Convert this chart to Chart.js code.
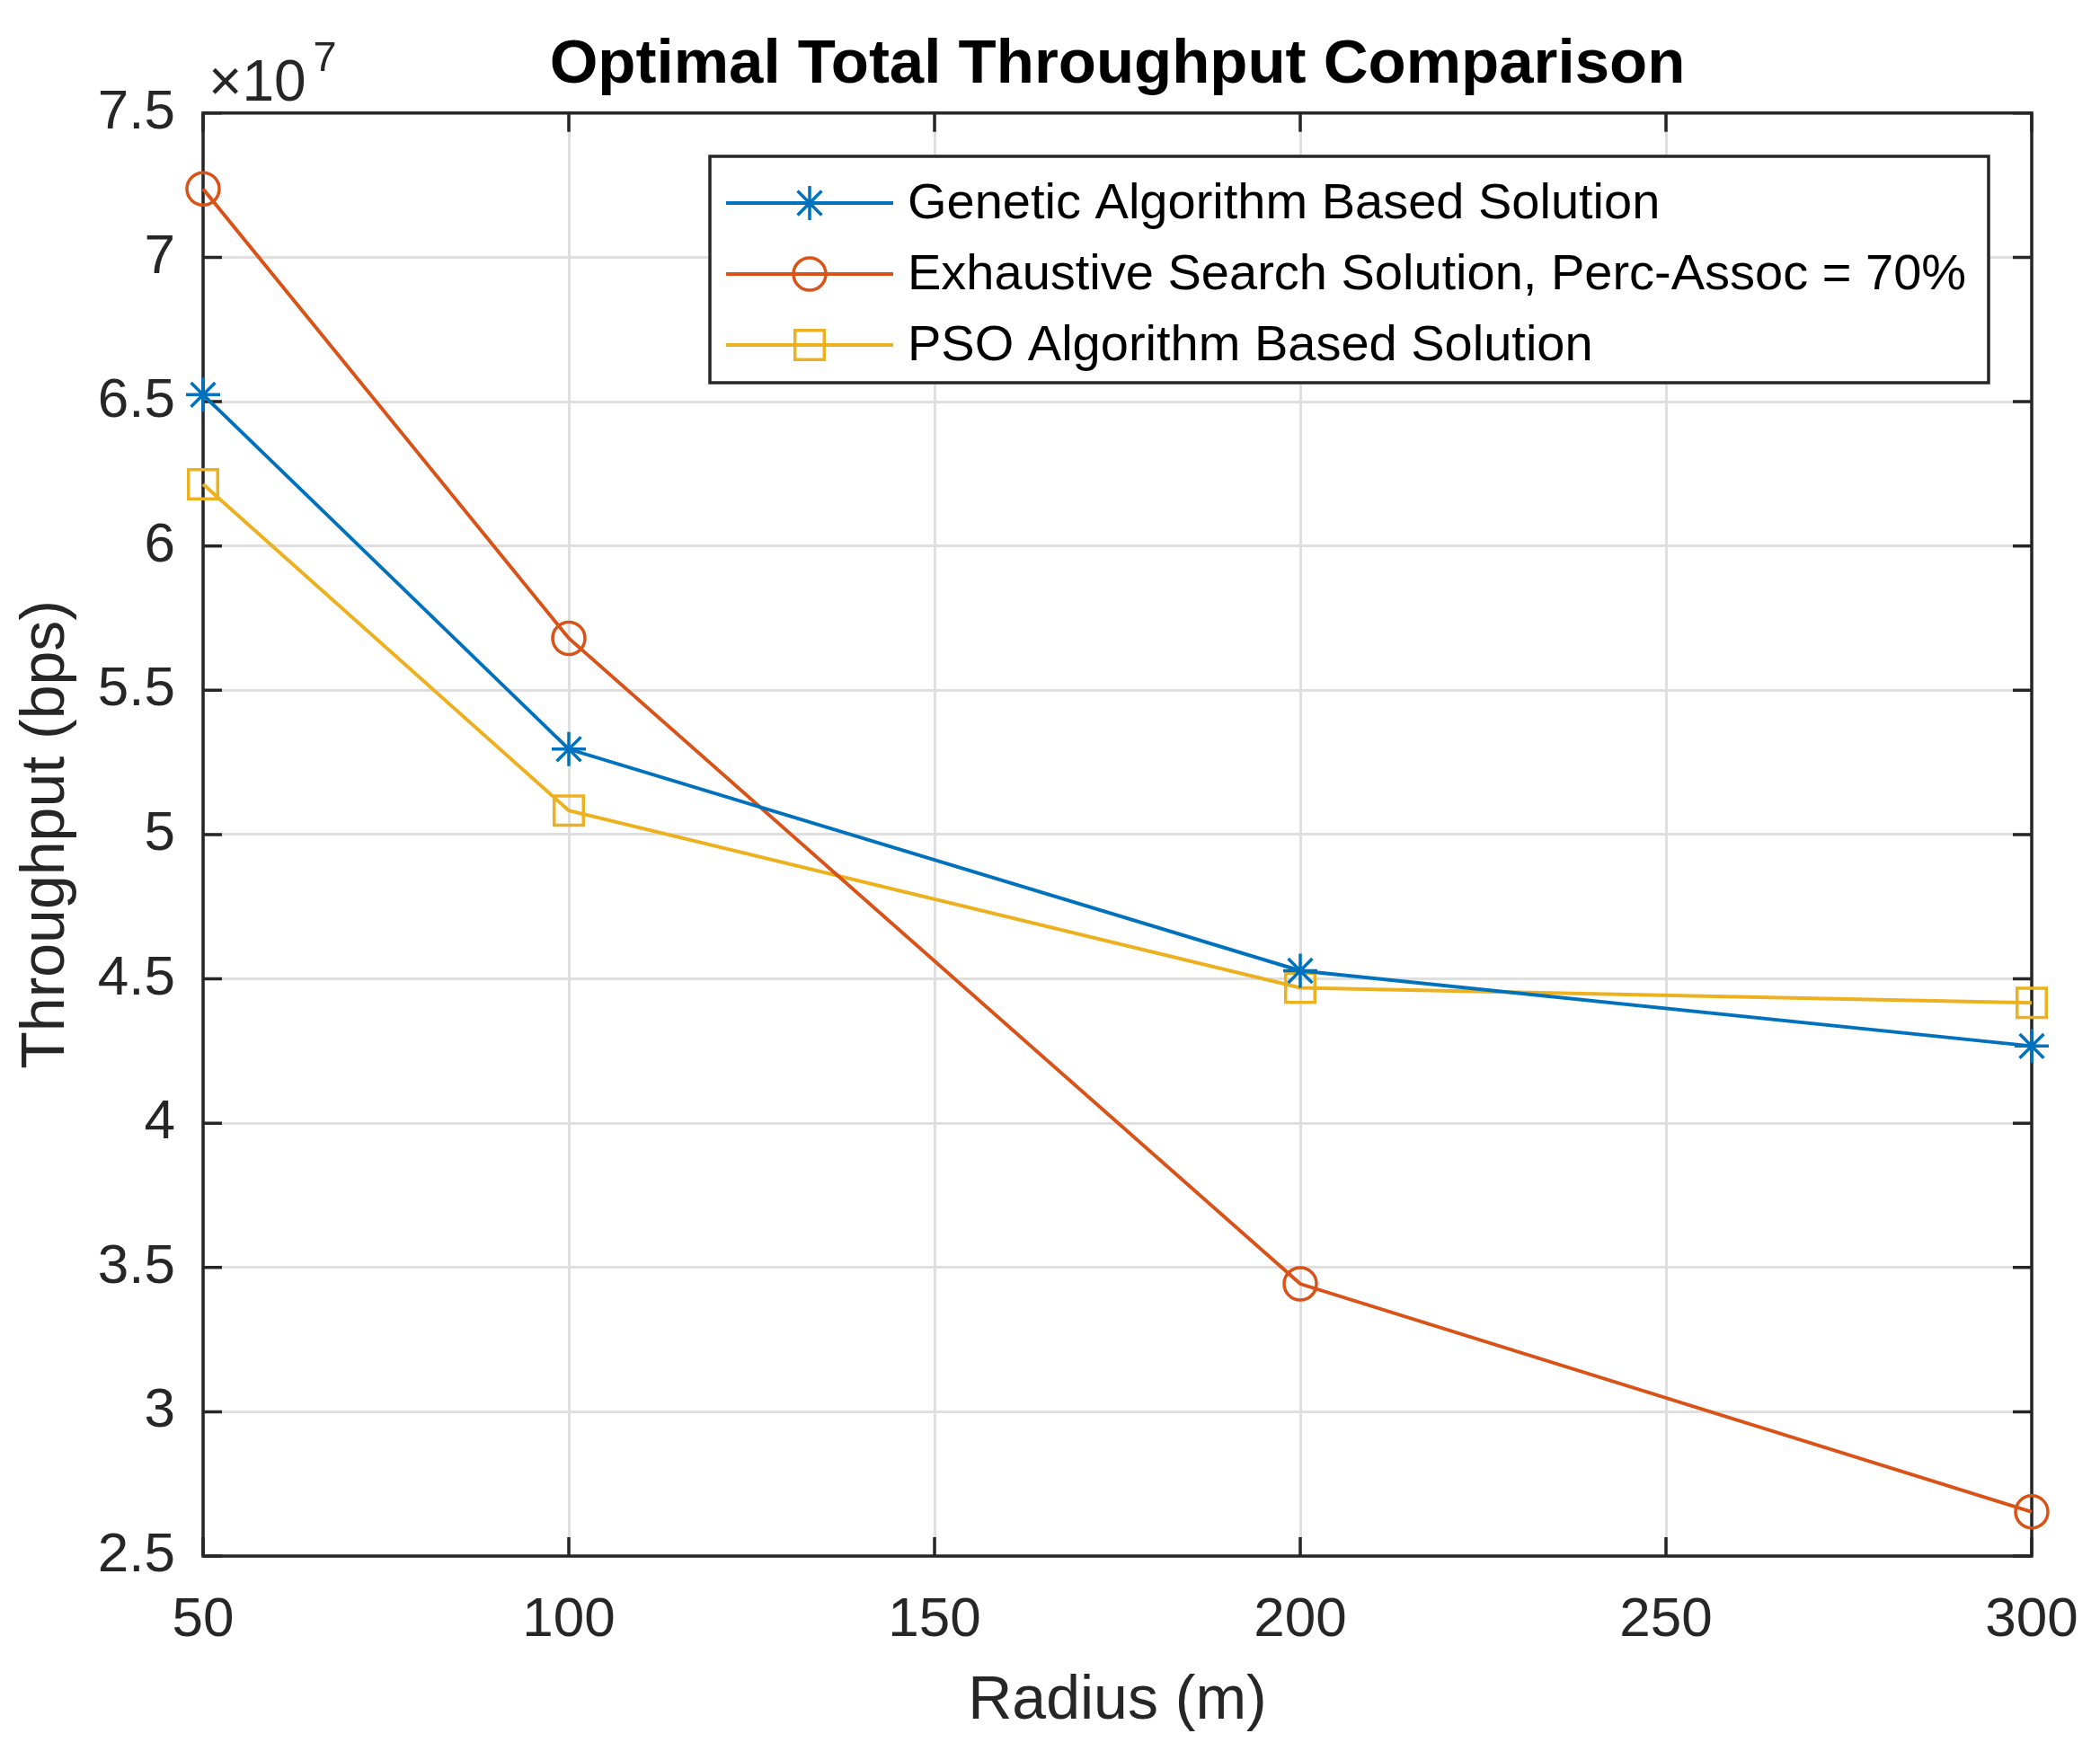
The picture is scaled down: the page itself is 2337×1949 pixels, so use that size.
<!DOCTYPE html>
<html>
<head>
<meta charset="utf-8">
<script src="https://cdn.jsdelivr.net/npm/chart.js@4.4.1/dist/chart.umd.min.js"></script>
<style>
  html, body { margin: 0; padding: 0; background: #fff; }
  #wrap { width: 2337px; height: 1949px; }
</style>
</head>
<body>
<div id="wrap"><canvas id="chart" width="2337" height="1949"></canvas></div>
<script>
// values (bps)
const radius = [50, 100, 200, 300];
const gaThroughput = [65240000, 52960000, 45280000, 42670000];
const exhaustiveThroughput = [72370000, 56800000, 34430000, 26530000];
const psoThroughput = [62140000, 50830000, 44690000, 44170000];

const seriesLabels = [
  'Genetic Algorithm Based Solution',
  'Exhaustive Search Solution, Perc-Assoc = 70%',
  'PSO Algorithm Based Solution'
];
const xTicks = [50, 100, 150, 200, 250, 300];
const yTicks = [2.5, 3, 3.5, 4, 4.5, 5, 5.5, 6, 6.5, 7, 7.5];

const FONT = '"Liberation Sans", Arial, Helvetica, sans-serif';
const AXIS_COLOR = '#262626';
const colors = ['#0072BD', '#D95319', '#EDB120'];
const styles = ['star', 'circle', 'rect'];
const radii = [19, 18, 23];

function toPoints(ys) {
  return radius.map((r, i) => ({ x: r, y: ys[i] }));
}

const datasets = [gaThroughput, exhaustiveThroughput, psoThroughput].map((ys, i) => ({
  label: seriesLabels[i],
  data: toPoints(ys),
  borderColor: colors[i],
  backgroundColor: colors[i],
  borderWidth: 4,
  pointStyle: styles[i],
  pointRadius: radii[i],
  pointHoverRadius: radii[i],
  pointBorderWidth: 3.5,
  pointBorderColor: colors[i],
  pointBackgroundColor: 'rgba(0,0,0,0)',
  tension: 0,
  clip: false
}));

function drawMarker(ctx, style, x, y, r) {
  ctx.beginPath();
  if (style === 'circle') {
    ctx.arc(x, y, r, 0, Math.PI * 2);
  } else if (style === 'rect') {
    const s = r * Math.SQRT1_2;
    ctx.rect(x - s, y - s, 2 * s, 2 * s);
  } else {
    const d = r * Math.SQRT1_2;
    ctx.moveTo(x - r, y); ctx.lineTo(x + r, y);
    ctx.moveTo(x, y - r); ctx.lineTo(x, y + r);
    ctx.moveTo(x - d, y - d); ctx.lineTo(x + d, y + d);
    ctx.moveTo(x - d, y + d); ctx.lineTo(x + d, y - d);
  }
  ctx.stroke();
}

// centre the title over the plot area, like MATLAB does
const titleOverPlot = {
  id: 'titleOverPlot',
  afterLayout(chart) {
    const t = chart.titleBlock;
    if (t) {
      t.left = chart.chartArea.left;
      t.right = chart.chartArea.right;
    }
  }
};

// MATLAB-like box with inward ticks on all four sides
const axesBox = {
  id: 'axesBox',
  beforeDatasetsDraw(chart) {
    const { ctx, chartArea: a, scales: { x, y } } = chart;
    const tl = 21;
    ctx.save();
    ctx.strokeStyle = AXIS_COLOR;
    ctx.lineWidth = 3.5;
    ctx.beginPath();
    x.ticks.forEach(t => {
      const px = x.getPixelForValue(t.value);
      ctx.moveTo(px, a.bottom); ctx.lineTo(px, a.bottom - tl);
      ctx.moveTo(px, a.top); ctx.lineTo(px, a.top + tl);
    });
    y.ticks.forEach(t => {
      const py = y.getPixelForValue(t.value);
      ctx.moveTo(a.left, py); ctx.lineTo(a.left + tl, py);
      ctx.moveTo(a.right, py); ctx.lineTo(a.right - tl, py);
    });
    ctx.stroke();
    ctx.lineJoin = 'miter';
    ctx.strokeRect(a.left, a.top, a.right - a.left, a.bottom - a.top);
    // exponent label
    ctx.fillStyle = AXIS_COLOR;
    ctx.textBaseline = 'alphabetic';
    ctx.textAlign = 'left';
    ctx.font = '64px ' + FONT;
    ctx.fillText('\u00d710', a.left + 6, a.top - 14);
    const w = ctx.measureText('\u00d710').width;
    ctx.font = '47px ' + FONT;
    ctx.fillText('7', a.left + 6 + w + 8, a.top - 47);
    ctx.restore();
  }
};

const boxLegend = {
  id: 'boxLegend',
  afterDraw(chart) {
    const { ctx } = chart;
    const bx = 790, by = 174, bw = 1423, bh = 252;
    const rows = [226, 305, 384];
    ctx.save();
    ctx.fillStyle = '#fff';
    ctx.fillRect(bx, by, bw, bh);
    ctx.strokeStyle = AXIS_COLOR;
    ctx.lineWidth = 3.5;
    ctx.strokeRect(bx, by, bw, bh);
    ctx.font = '56px ' + FONT;
    ctx.textBaseline = 'middle';
    ctx.textAlign = 'left';
    chart.data.datasets.forEach((ds, i) => {
      const yy = rows[i];
      ctx.strokeStyle = colors[i];
      ctx.lineWidth = 4;
      ctx.beginPath();
      ctx.moveTo(808, yy); ctx.lineTo(994, yy);
      ctx.stroke();
      ctx.lineWidth = 3.5;
      drawMarker(ctx, styles[i], 901, yy, radii[i]);
      ctx.fillStyle = '#000';
      ctx.fillText(ds.label, 1010, yy + 2);
    });
    ctx.restore();
  }
};

new Chart(document.getElementById('chart'), {
  type: 'line',
  data: { datasets },
  options: {
    responsive: false,
    devicePixelRatio: 1,
    animation: false,
    events: [],
    layout: { padding: { left: 0, right: 76, top: 0, bottom: 0 } },
    plugins: {
      legend: { display: false },
      tooltip: { enabled: false },
      title: {
        display: true,
        text: 'Optimal Total Throughput Comparison',
        color: '#000',
        font: { family: FONT, size: 69, weight: 'bold', lineHeight: 1.2 },
        padding: { top: 32, bottom: 11 }
      }
    },
    scales: {
      x: {
        type: 'linear',
        min: xTicks[0],
        max: xTicks[xTicks.length - 1],
        afterBuildTicks: s => { s.ticks = xTicks.map(v => ({ value: v })); },
        afterFit: s => { s.height = 217; s.paddingLeft = 0; s.paddingRight = 0; },
        ticks: {
          color: AXIS_COLOR,
          padding: 35,
          maxRotation: 0,
          font: { family: FONT, size: 62, lineHeight: 1.2 },
          callback: v => String(v)
        },
        grid: { color: '#dfdfdf', lineWidth: 3, drawTicks: false },
        border: { display: false },
        title: {
          display: true,
          text: 'Radius (m)',
          color: AXIS_COLOR,
          font: { family: FONT, size: 68, lineHeight: 1.2 },
          padding: { top: 0, bottom: 14 }
        }
      },
      y: {
        type: 'linear',
        min: yTicks[0] * 1e7,
        max: yTicks[yTicks.length - 1] * 1e7,
        afterBuildTicks: s => { s.ticks = yTicks.map(v => ({ value: v * 1e7 })); },
        afterFit: s => { s.width = 226; },
        ticks: {
          color: AXIS_COLOR,
          padding: 31,
          font: { family: FONT, size: 62, lineHeight: 1.2 },
          callback: v => String(Math.round(v / 1e6) / 10)
        },
        grid: { color: '#dfdfdf', lineWidth: 3, drawTicks: false },
        border: { display: false },
        title: {
          display: true,
          text: 'Throughput (bps)',
          color: AXIS_COLOR,
          font: { family: FONT, size: 68, lineHeight: 1.2 },
          padding: { top: 11, bottom: 0 }
        }
      }
    }
  },
  plugins: [titleOverPlot, axesBox, boxLegend]
});
</script>
</body>
</html>
